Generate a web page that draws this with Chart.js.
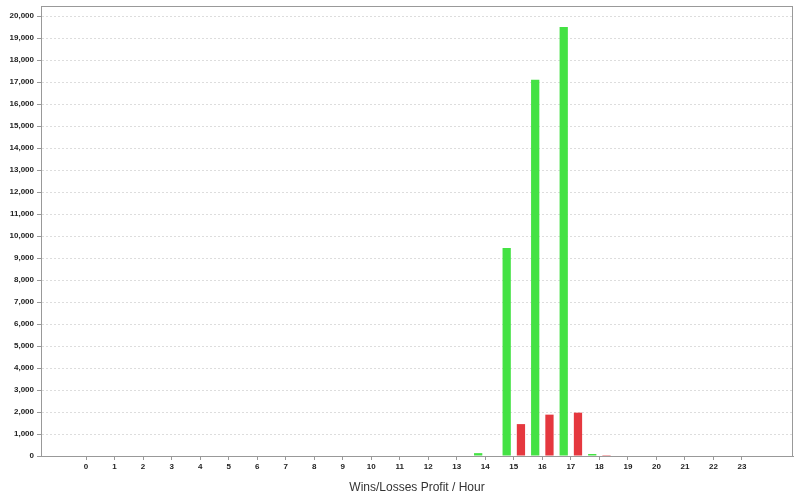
<!DOCTYPE html>
<html>
<head>
<meta charset="utf-8">
<script src="https://cdn.jsdelivr.net/npm/chart.js@4.4.0/dist/chart.umd.min.js"></script>
<style>
  html, body { margin: 0; padding: 0; background: #fff; }
  #wrap { width: 800px; height: 500px; }
</style>
</head>
<body>
<div id="wrap"><canvas id="profitHour" width="800" height="500"></canvas></div>
<script>
const hours = [0, 1, 2, 3, 4, 5, 6, 7, 8, 9, 10, 11, 12, 13, 14, 15, 16, 17, 18, 19, 20, 21, 22, 23];
const wins = [0, 0, 0, 0, 0, 0, 0, 0, 0, 0, 0, 0, 0, 0, 130, 9450, 17100, 19500, 90, 0, 0, 0, 0, 0];
const losses = [0, 0, 0, 0, 0, 0, 0, 0, 0, 0, 0, 0, 0, 0, 0, 1450, 1880, 1970, 40, 0, 0, 0, 0, 0];
const yTicks = [0, 1000, 2000, 3000, 4000, 5000, 6000, 7000, 8000, 9000, 10000,
    11000, 12000, 13000, 14000, 15000, 16000, 17000, 18000, 19000, 20000];

const tickFont = { family: 'Liberation Sans', size: 8, weight: 'bold' };

// frame round the plot area, like the original
const plotFrame = {
    id: 'plotFrame',
    afterDraw(chart) {
        const a = chart.chartArea;
        const c = chart.ctx;
        c.save();
        c.strokeStyle = '#999999';
        c.lineWidth = 1;
        c.strokeRect(a.left + 0.5, a.top + 0.5, a.right - a.left - 1, a.bottom - a.top);
        c.restore();
    }
};

const config = {
    type: 'bar',
    data: {
        datasets: [{
            label: 'Wins',
            data: hours.map((h, i) => ({ x: h, y: wins[i] })),
            backgroundColor: '#44E244'
        },
        {
            label: 'Losses',
            data: hours.map((h, i) => ({ x: h, y: losses[i] })),
            backgroundColor: '#E5383F'
        }]
    },
    options: {
        responsive: false,
        animation: false,
        layout: { padding: { top: 6, right: 7, bottom: 0, left: 0 } },
        categoryPercentage: 1.0,
        barPercentage: 0.58,
        plugins: {
            legend: { display: false },
            tooltip: { enabled: false }
        },
        scales: {
            x: {
                type: 'linear',
                min: -1.58,
                max: 24.79,
                offset: false,
                afterBuildTicks: s => { s.ticks = hours.map(h => ({ value: h })); },
                afterFit: s => { s.height = 44; },
                grid: { offset: false, drawOnChartArea: false, tickLength: 4, color: '#999999' },
                border: { display: true, color: '#999999' },
                ticks: {
                    font: tickFont,
                    color: '#222',
                    padding: 2,
                    maxRotation: 0,
                    autoSkip: false
                },
                title: {
                    display: true,
                    text: 'Wins/Losses Profit / Hour',
                    font: { family: 'Liberation Sans', size: 12 },
                    color: '#333',
                    padding: { top: 4, bottom: 5 }
                }
            },
            y: {
                min: 0,
                max: 20455,
                afterBuildTicks: s => { s.ticks = yTicks.map(v => ({ value: v })); },
                afterFit: s => { s.width = 41; s.paddingTop = 0; s.paddingBottom = 0; },
                grid: { color: '#dddddd', tickColor: '#999999', tickLength: 4 },
                border: { display: true, color: '#999999', dash: [2, 2] },
                ticks: {
                    font: tickFont,
                    color: '#222',
                    padding: 3,
                    callback: function (value) {
                        return value.toLocaleString('en-US');
                    }
                }
            }
        }
    },
    plugins: [plotFrame]
};

const profitChart = new Chart(document.getElementById('profitHour'), config);
</script>
</body>
</html>
